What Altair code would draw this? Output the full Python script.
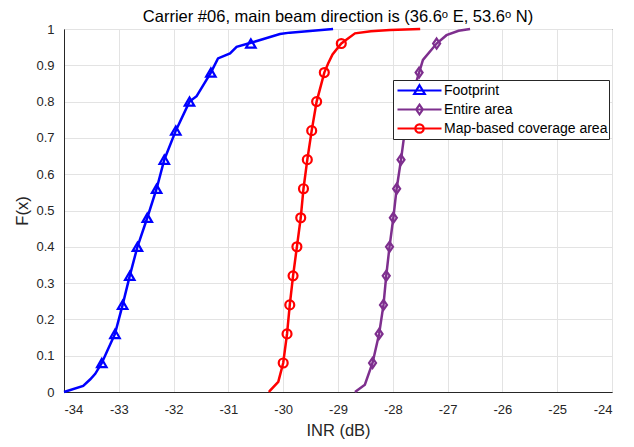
import altair as alt
import pandas as pd

series = ["Footprint", "Entire area", "Map-based coverage area"]
colors = ["#0000FF", "#7E2F8E", "#FF0000"]

# Footprint curve
fp_x = [-34.00, -33.65, -33.52, -33.43, -33.31, -33.22, -33.07, -32.93, -32.80, -32.66, -32.48, -32.31,
        -32.17, -31.96, -31.71, -31.58, -31.32, -31.19, -30.97, -30.85, -30.59, -30.06, -29.88, -29.09]
fp_F = [0.0, 0.017, 0.035, 0.05, 0.08, 0.11, 0.16, 0.24, 0.32, 0.40, 0.48, 0.56,
        0.64, 0.72, 0.80, 0.815, 0.88, 0.919, 0.933, 0.951, 0.962, 0.986, 0.99, 1.0]

# Entire area curve
ea_x = [-28.69, -28.51, -28.37, -28.25, -28.17, -28.12, -28.06, -27.99, -27.93, -27.85, -27.78, -27.68,
        -27.52, -27.45, -27.20, -27.02, -26.80, -26.59]
ea_F = [0.0, 0.02, 0.08, 0.16, 0.24, 0.32, 0.40, 0.48, 0.56, 0.64, 0.72, 0.80,
        0.88, 0.915, 0.96, 0.983, 0.995, 1.0]

# Map-based coverage area curve
mb_x = [-30.26, -30.24, -30.09, -30.00, -29.93, -29.88, -29.82, -29.75, -29.68, -29.63, -29.56, -29.48,
        -29.39, -29.25, -29.18, -29.10, -28.94, -28.69, -28.40, -28.05, -27.50]
mb_F = [0.0, 0.004, 0.028, 0.08, 0.16, 0.24, 0.32, 0.40, 0.48, 0.56, 0.64, 0.72,
        0.80, 0.88, 0.905, 0.93, 0.96, 0.988, 0.994, 0.997, 1.0]

# Marker positions
marker_F = [0.08, 0.16, 0.24, 0.32, 0.40, 0.48, 0.56, 0.64, 0.72, 0.80, 0.88, 0.96]
fp_mx = [-33.31, -33.07, -32.93, -32.80, -32.66, -32.48, -32.31, -32.17, -31.96, -31.71, -31.32, -30.59]
ea_mx = [-28.37, -28.25, -28.17, -28.12, -28.06, -27.99, -27.93, -27.85, -27.78, -27.68, -27.52, -27.20]
mb_mx = [-30.00, -29.93, -29.88, -29.82, -29.75, -29.68, -29.63, -29.56, -29.48, -29.39, -29.25, -28.94]

x_ticks = [-34, -33, -32, -31, -30, -29, -28, -27, -26, -25, -24]
y_ticks = [0, 0.1, 0.2, 0.3, 0.4, 0.5, 0.6, 0.7, 0.8, 0.9, 1]

title_text = "Carrier #06, main beam direction is (36.6\u1d52 E, 53.6\u1d52 N)"

FONT = "Liberation Sans"

x_enc = alt.X("x:Q", scale=alt.Scale(domain=[-34, -24], nice=False, zero=False),
              axis=alt.Axis(values=x_ticks, title="INR (dB)", labelExpr="toString(datum.value)",
                            labelPadding=11, titlePadding=6, labelOverlap=False))
y_enc = alt.Y("F:Q", scale=alt.Scale(domain=[0, 1], nice=False),
              axis=alt.Axis(values=y_ticks, title="F(x)", labelExpr="toString(datum.value)",
                            labelPadding=10, titlePadding=5, labelOverlap=False))

def line_layer(xs, fs, color):
    df = pd.DataFrame({"x": xs, "F": fs, "idx": list(range(len(xs)))})
    return alt.Chart(df).mark_line(strokeWidth=2.5, color=color).encode(
        x=x_enc, y=y_enc, order=alt.Order("idx:Q"))

def marker_layer(xs, shape, size, color):
    df = pd.DataFrame({"x": xs, "F": marker_F})
    return alt.Chart(df).mark_point(shape=shape, filled=False, strokeWidth=2.2, size=size,
                                    color=color, opacity=1).encode(x=x_enc, y=y_enc)

diamond_path = "M0,-1L0.7,0L0,1L-0.7,0Z"

l_fp = line_layer(fp_x, fp_F, colors[0])
l_ea = line_layer(ea_x, ea_F, colors[1])
l_mb = line_layer(mb_x, mb_F, colors[2])
m_fp = marker_layer(fp_mx, "triangle-up", 90, colors[0])
m_ea = marker_layer(ea_mx, diamond_path, 100, colors[1])
m_mb = marker_layer(mb_mx, "circle", 80, colors[2])

legend_paths = [
    "M-1,0H1M0,-0.24L0.24,0.16L-0.24,0.16Z",
    "M-1,0H1M0,-0.22L0.15,0L0,0.22L-0.15,0Z",
    "M-1,0H1M0.19,0A0.19,0.19,0,1,1,-0.19,0A0.19,0.19,0,1,1,0.19,0Z",
]

legend_df = pd.DataFrame({"series": series, "x": [-34.0] * 3, "F": [0.0] * 3})
legend_layer = alt.Chart(legend_df).mark_point(filled=False, opacity=0, strokeWidth=2).encode(
    x=x_enc, y=y_enc,
    color=alt.Color("series:N", scale=alt.Scale(domain=series, range=colors),
                    legend=alt.Legend(title=None, orient="none", legendX=329, legendY=51,
                                      symbolSize=1936, symbolStrokeWidth=2.2, symbolOpacity=1,
                                      labelFont=FONT, labelFontSize=14, labelColor="#000000",
                                      labelLimit=300, labelOffset=1, symbolOffset=2,
                                      fillColor="#FFFFFF", strokeColor="#262626",
                                      padding=1, clipHeight=19, rowPadding=0, cornerRadius=0)),
    shape=alt.Shape("series:N", scale=alt.Scale(domain=series, range=legend_paths)),
)

chart = alt.layer(l_fp, m_fp, l_ea, m_ea, l_mb, m_mb, legend_layer).properties(
    width=548, height=363,
    padding={"left": 56, "top": 21, "right": 10, "bottom": 47},
    autosize=alt.AutoSizeParams(type="none"),
    title=alt.TitleParams(text=title_text, font=FONT, fontSize=16.5, fontWeight="normal",
                          color="#000000", anchor="middle", offset=-2),
).configure_view(
    stroke="#262626", strokeWidth=1
).configure_axis(
    grid=True, gridColor="#E3E3E3", gridWidth=1,
    domainColor="#262626", domainWidth=1,
    ticks=False, tickSize=0,
    labelFont=FONT, labelFontSize=13, labelColor="#262626",
    titleFont=FONT, titleFontSize=16.5, titleFontWeight="normal", titleColor="#262626",
)

chart.save("out.html", embed_options={"renderer": "svg", "actions": False})
